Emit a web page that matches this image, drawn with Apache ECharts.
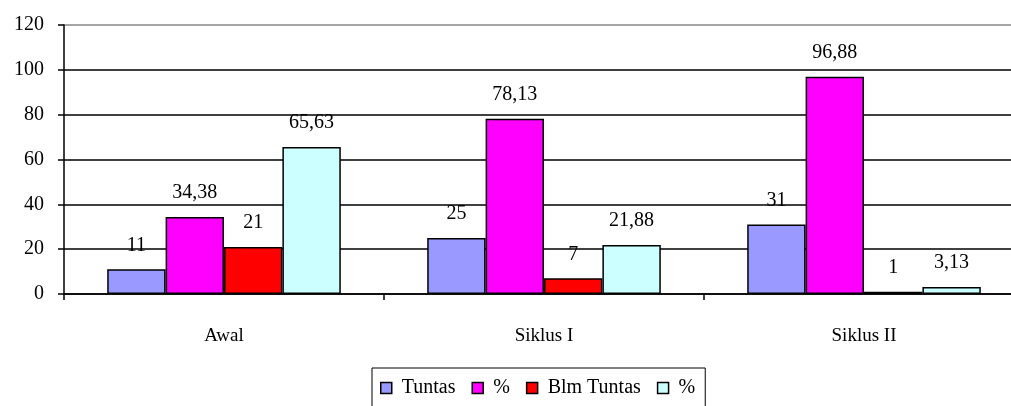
<!DOCTYPE html>
<html><head><meta charset="utf-8">
<script src="https://cdn.jsdelivr.net/npm/echarts@6/dist/echarts.min.js"></script>
<style>html,body{margin:0;padding:0;background:#fff}#c{width:1011px;height:406px}</style>
</head><body><div id="c"></div>
<script>
const categories = ['Awal', 'Siklus I', 'Siklus II'];
const tuntas = [11, 25, 31];
const pctTuntas = [34.38, 78.13, 96.88];
const blmTuntas = [21, 7, 1];
const pctBlm = [65.63, 21.88, 3.13];
const seriesNames = ['Tuntas', '%', 'Blm Tuntas', '%'];
const seriesKeys = ['s0', 's1', 's2', 's3'];
const colors = ['#9999FF', '#FF00FF', '#FF0000', '#CCFFFF'];
const yTicks = { min: 0, max: 120, interval: 20 };

const font = '"Liberation Serif", "Times New Roman", serif';
const fmt = v => String(v).replace('.', ',');
const allData = [tuntas, pctTuntas, blmTuntas, pctBlm];

const chart = echarts.init(document.getElementById('c'), null, { renderer: 'canvas' });
chart.setOption({
  animation: false,
  backgroundColor: '#fff',
  grid: { left: 64, top: 25, width: 960, bottom: 112, containLabel: false, outerBoundsMode: 'none' },
  legend: {
    data: seriesKeys,
    top: 368,
    left: 372,
    formatter: k => seriesNames[seriesKeys.indexOf(k)],
    icon: 'rect',
    itemWidth: 11, itemHeight: 11, itemGap: 16,
    borderColor: '#000', borderWidth: 1,
    padding: [10, 10, 24, 8],
    textStyle: { fontFamily: font, fontSize: 20, color: '#000', padding: [0, 0, 0, 5] },
    itemStyle: { borderColor: '#000', borderWidth: 1.5 }
  },
  xAxis: {
    type: 'category',
    data: categories,
    axisLine: { lineStyle: { color: '#000', width: 1.5 } },
    axisTick: { show: true, length: 6, lineStyle: { color: '#000', width: 1.5 } },
    axisLabel: { fontFamily: font, fontSize: 19, color: '#000', margin: 33 },
    splitLine: { show: false }
  },
  yAxis: {
    type: 'value',
    min: yTicks.min, max: yTicks.max, interval: yTicks.interval,
    axisLine: { show: true, lineStyle: { color: '#000', width: 1.5 } },
    axisTick: { show: true, length: 6, lineStyle: { color: '#000', width: 1.5 } },
    axisLabel: { fontFamily: font, fontSize: 20, color: '#000', margin: 20 },
    splitLine: { show: true, lineStyle: { color: ['#000', '#000', '#000', '#000', '#000', '#000', '#888'], width: 1.5 } }
  },
  series: seriesKeys.map((k, i) => ({
    name: k,
    type: 'bar',
    data: allData[i],
    barGap: '0%',
    barCategoryGap: '27%',
    itemStyle: { color: colors[i], borderColor: '#000', borderWidth: 1.5 },
    label: {
      show: true, position: 'top', distance: 14,
      fontFamily: font, fontSize: 20, color: '#000',
      formatter: p => fmt(p.value)
    }
  }))
});
</script></body></html>
